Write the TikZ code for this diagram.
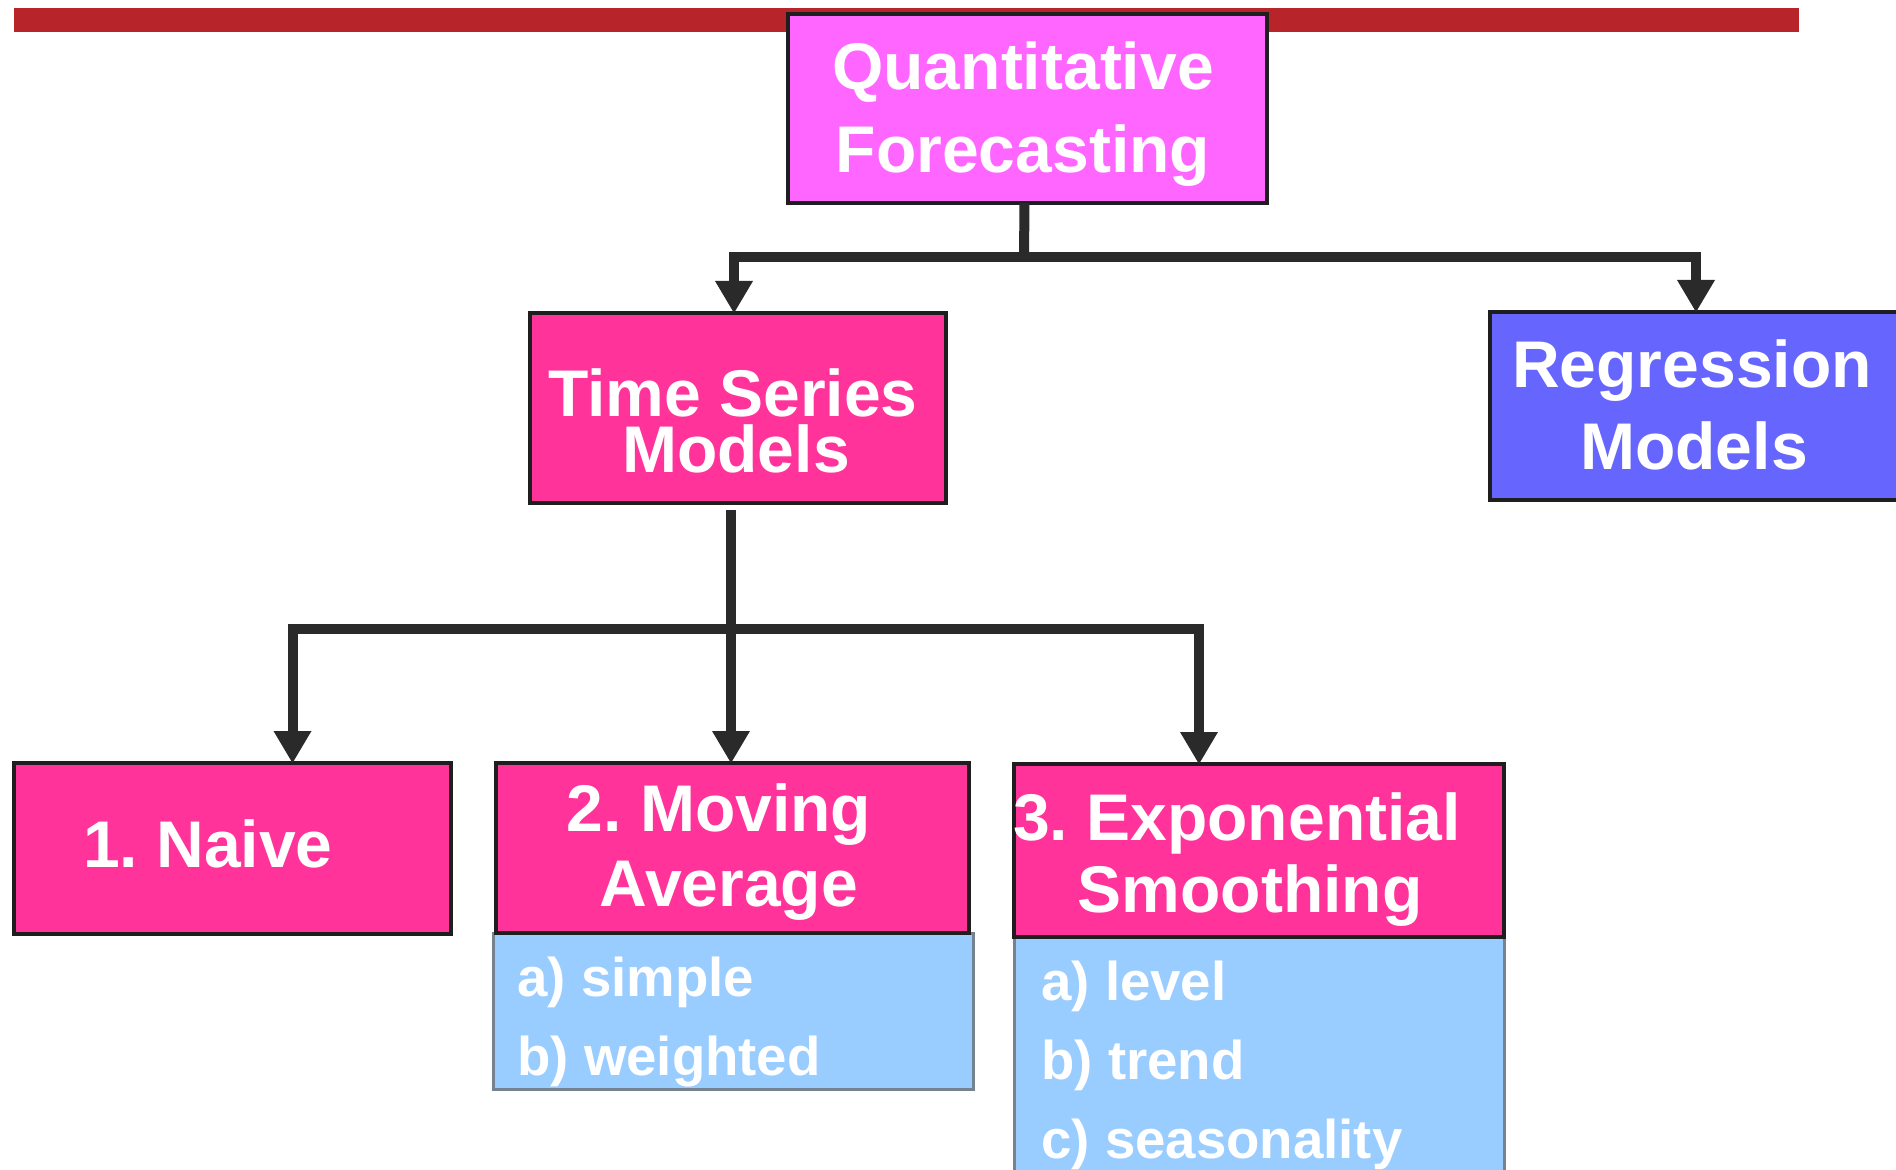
\documentclass[tikz,border=0pt]{standalone}
\usepackage{fontspec}
\setmainfont{Liberation Sans}
\usetikzlibrary{arrows.meta,calc}
\definecolor{barred}{HTML}{B7252B}
\definecolor{qfpink}{HTML}{FF66FF}
\definecolor{tspink}{HTML}{FF3399}
\definecolor{rmblue}{HTML}{6666FF}
\definecolor{subblue}{HTML}{99CCFF}
\definecolor{linedark}{HTML}{2A2A2A}
\definecolor{boxedge}{HTML}{1E1E1E}
\definecolor{subedge}{HTML}{75828F}
\frenchspacing
\begin{document}
\begin{tikzpicture}[x=0.5pt,y=-0.5pt,
  box/.style={draw=boxedge, line width=2pt, inner sep=0pt, outer sep=0pt},
  subbox/.style={draw=subedge, fill=subblue, line width=1.5pt, inner sep=0pt, outer sep=0pt},
  txt/.style={text=white, font=\bfseries\fontsize{33pt}{33pt}\selectfont\frenchspacing, inner sep=0pt, anchor=base},
  subtxt/.style={text=white, font=\bfseries\fontsize{27.3pt}{27.3pt}\selectfont, inner sep=0pt, anchor=base west},
  conn/.style={draw=linedark, line width=5pt},
  arr/.style={conn, -{Triangle[width=19pt,length=16pt,line width=0pt]}}]
\useasboundingbox (0,0) rectangle (1896,1170);
\clip (0,0) rectangle (1896,1170);
% top bar
\fill[barred] (14,8) rectangle (1799,32);
% boxes
\node[box, fill=qfpink, minimum width=239.5pt, minimum height=94.5pt] (qf) at (1027.5,108.5) {};
\node[box, fill=tspink, minimum width=208pt, minimum height=95pt] (ts) at (738,408) {};
\node[box, fill=rmblue, minimum width=206pt, minimum height=94pt] (rm) at (1696,406) {};
\node[box, fill=tspink, minimum width=218.5pt, minimum height=85.5pt] (nv) at (232.5,848.5) {};
\node[subbox, minimum width=240pt, minimum height=78pt] (mas) at (733,1011) {};
\node[box, fill=tspink, minimum width=236.5pt, minimum height=85pt] (ma) at (732.5,848) {};
\node[subbox, minimum width=245pt, minimum height=122pt] (ess) at (1259,1059) {};
\node[box, fill=tspink, minimum width=245pt, minimum height=86.5pt] (es) at (1259,850.5) {};
% texts
\node[txt] (qf1) at (1023,90) {Quantitative};
\node[txt] (qf2) at (1023,173) {Forecasting};
\node[txt] (ts1) at (733,417) {Time Series};
\node[txt] (ts2) at (736,473) {Models};
\node[txt] (rm1) at (1692,388) {Regression};
\node[txt] (rm2) at (1694,470) {Models};
\node[txt] (nv1) at (208,867) {1. Naive};
\node[txt] (ma1) at (719,831) {2. Moving};
\node[txt] (ma2) at (729,906) {Average};
\node[txt] (es1) at (1237,840) {3. Exponential};
\node[txt] (es2) at (1250,912) {Smoothing};
\node[subtxt] (mas1) at (517,996) {a) simple};
\node[subtxt] (mas2) at (517,1075) {b) weighted};
\node[subtxt] (ess1) at (1041,1000) {a) level};
\node[subtxt] (ess2) at (1041,1079) {b) trend};
\node[subtxt] (ess3) at (1041,1158) {c) seasonality};
% connectors
\coordinate (qfj) at (1024,257);
\coordinate (tsj) at (731,629);
\draw[conn] ($(qf.south)+(-3,0)$) -- (qfj);
\draw[arr] (qfj) -| ($(ts.north)+(-4,0)$);
\draw[arr] (qfj) -| (rm.north);
\draw[conn] (ts.south -| tsj) ++(0,7) -- (tsj);
\draw[arr] (tsj) -| ($(nv.north)+(60,0)$);
\draw[arr] (tsj) -- (tsj |- ma.north);
\draw[arr] (tsj) -| ($(es.north)+(-60,0)$);
\end{tikzpicture}
\end{document}
